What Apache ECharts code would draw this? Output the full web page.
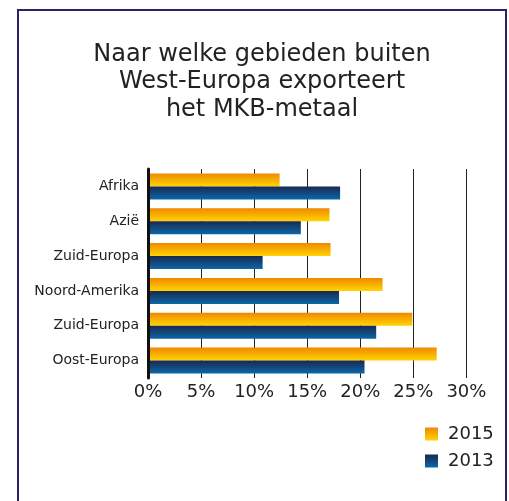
<!DOCTYPE html>
<html>
<head>
<meta charset="utf-8">
<script src="https://cdn.jsdelivr.net/npm/echarts@6/dist/echarts.min.js"></script>
<style>
html,body{margin:0;padding:0;background:#fff;}
#chart{width:509px;height:501px;}
</style>
</head>
<body>
<div id="chart"></div>
<script>
var titleLines = ['Naar welke gebieden buiten', 'West-Europa exporteert', 'het MKB-metaal'];
var categories = ['Afrika', 'Azië', 'Zuid-Europa', 'Noord-Amerika', 'Zuid-Europa', 'Oost-Europa'];
var seriesNames = ['2015', '2013'];
var values2015 = [12.4, 17.1, 17.2, 22.1, 24.9, 27.2];
var values2013 = [18.1, 14.4, 10.8, 18.0, 21.5, 20.4];
var xTicks = [0, 5, 10, 15, 20, 25, 30];

var font = 'DejaVu Sans, Verdana, sans-serif';
var chart = echarts.init(document.getElementById('chart'), null, {renderer: 'canvas'});

function grad(top, bottom) {
  return new echarts.graphic.LinearGradient(0, 0, 0, 1, [
    {offset: 0, color: top}, {offset: 1, color: bottom}
  ]);
}

chart.setOption({
  backgroundColor: '#ffffff',
  animation: false,
  graphic: [
    {type: 'rect', shape: {x: 18, y: 10, width: 488, height: 500},
     style: {fill: 'none', stroke: '#2a2366', lineWidth: 2}, silent: true},
    {type: 'text', x: 262, y: 41,
     style: {text: titleLines.join('\n'), fill: '#222222', font: '24px ' + font,
             lineHeight: 27.5, align: 'center', verticalAlign: 'top'}}
  ],
  legend: {
    data: seriesNames,
    orient: 'vertical',
    left: 425,
    top: 425,
    padding: 0,
    itemWidth: 13,
    itemHeight: 13,
    itemGap: 9,
    icon: 'rect',
    textStyle: {fontFamily: font, fontSize: 18, color: '#222222', lineHeight: 18, padding: [0, 0, 0, 5]}
  },
  grid: {left: 148, top: 169, width: 318.4, height: 209, containLabel: false},
  xAxis: {
    type: 'value',
    min: xTicks[0],
    max: xTicks[xTicks.length - 1],
    interval: 5,
    axisLine: {show: false},
    axisTick: {show: false},
    axisLabel: {formatter: '{value}%', fontFamily: font, fontSize: 18, color: '#222222', margin: 5},
    splitLine: {show: true, lineStyle: {color: '#222222', width: 1}}
  },
  yAxis: {
    type: 'category',
    inverse: true,
    z: 10,
    data: categories,
    axisLine: {show: true, lineStyle: {color: '#111111', width: 3}},
    axisTick: {show: false},
    axisLabel: {fontFamily: font, fontSize: 14, color: '#222222', margin: 9}
  },
  series: [
    {name: seriesNames[0], type: 'bar', data: values2015, barWidth: 13, barGap: '0%',
     itemStyle: {color: grad('#f08800', '#ffd400')}, z: 3},
    {name: seriesNames[1], type: 'bar', data: values2013, barWidth: 13, barGap: '0%',
     itemStyle: {color: grad('#1a2850', '#0a68a8')}, z: 3}
  ]
});
</script>
</body>
</html>
